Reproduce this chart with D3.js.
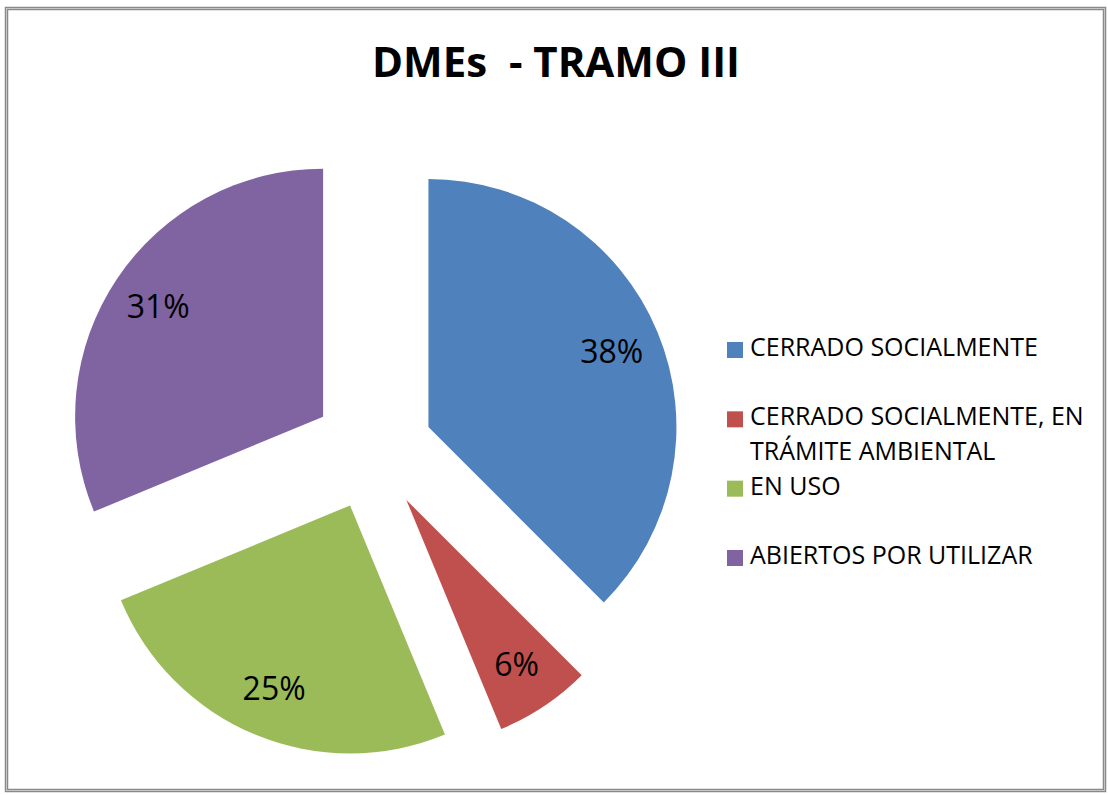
<!DOCTYPE html>
<html>
<head>
<meta charset="utf-8">
<script src="https://cdn.jsdelivr.net/npm/d3@7"></script>
<style>
  body { margin: 0; background: #fff; }
  svg { display: block; }
  text { font-family: "Open Sans", "DejaVu Sans", sans-serif; }
</style>
</head>
<body>
<div id="chart"></div>
<script>
var width = 1108,
    height = 795;

// chart data
var categories = ["CERRADO SOCIALMENTE", "CERRADO SOCIALMENTE, EN TRÁMITE AMBIENTAL", "EN USO", "ABIERTOS POR UTILIZAR"];
var legendLines = [["CERRADO SOCIALMENTE"], ["CERRADO SOCIALMENTE, EN", "TRÁMITE AMBIENTAL"], ["EN USO"], ["ABIERTOS POR UTILIZAR"]];
var counts = [6, 1, 4, 5];
var colors = ["#4F81BD", "#C0504D", "#9BBB59", "#8064A2"];
var title = "DMEs  - TRAMO III";

var cx = 373, cy = 450,
    radius = 248,
    explode = 60;

var svg = d3.select("#chart").append("svg")
    .attr("width", width)
    .attr("height", height);

// frame
svg.append("rect")
    .attr("x", 6.5).attr("y", 8.5)
    .attr("width", 1098).attr("height", 782)
    .attr("fill", "#fff")
    .attr("stroke", "#8a8a8a")
    .attr("stroke-width", 3.5);
svg.append("rect")
    .attr("x", 6.5).attr("y", 8.5)
    .attr("width", 1098).attr("height", 782)
    .attr("fill", "none")
    .attr("stroke", "#c4c4c4")
    .attr("stroke-width", 1);

svg.append("text")
    .attr("x", 556)
    .attr("y", 77)
    .attr("text-anchor", "middle")
    .style("white-space", "pre")
    .style("font-size", "42px")
    .style("font-weight", "bold")
    .attr("fill", "#000")
    .text(title);

var total = d3.sum(counts);

var pie = d3.pie()
    .sort(null)
    .value(function(d) { return d; });

var arc = d3.arc()
    .innerRadius(0)
    .outerRadius(radius);

var labelArc = d3.arc()
    .innerRadius(radius * 0.8)
    .outerRadius(radius * 0.8);

var arcs = pie(counts);

function offset(d) {
  var mid = (d.startAngle + d.endAngle) / 2;
  return "translate(" + (cx + Math.sin(mid) * explode) + "," + (cy - Math.cos(mid) * explode) + ")";
}

var slice = svg.append("g").selectAll(".slice")
    .data(arcs)
  .enter().append("g")
    .attr("class", "slice")
    .attr("transform", offset);

slice.append("path")
    .attr("d", arc)
    .attr("fill", function(d, i) { return colors[i]; });

slice.append("text")
    .attr("transform", function(d) {
      var c = labelArc.centroid(d);
      return "translate(" + c[0] + "," + c[1] + ")";
    })
    .attr("dy", "0.36em")
    .attr("text-anchor", "middle")
    .style("font-size", "32px")
    .attr("fill", "#000")
    .text(function(d) { return Math.round(d.data / total * 100) + "%"; });

// legend
var legendY = d3.scalePoint()
    .domain(categories)
    .range([356, 564]);

var legend = svg.append("g").selectAll(".legend")
    .data(categories)
  .enter().append("g")
    .attr("class", "legend")
    .attr("transform", function(d) { return "translate(727," + legendY(d) + ")"; });

legend.append("rect")
    .attr("x", 0)
    .attr("y", -14)
    .attr("width", 16)
    .attr("height", 16)
    .attr("fill", function(d, i) { return colors[i]; });

legend.append("text")
    .attr("x", 23)
    .style("font-size", "25px")
    .attr("fill", "#000")
    .selectAll("tspan")
    .data(function(d, i) { return legendLines[i]; })
  .enter().append("tspan")
    .attr("x", 23)
    .attr("dy", function(d, j) { return j ? 35 : 0; })
    .text(function(d) { return d; });
</script>
</body>
</html>
